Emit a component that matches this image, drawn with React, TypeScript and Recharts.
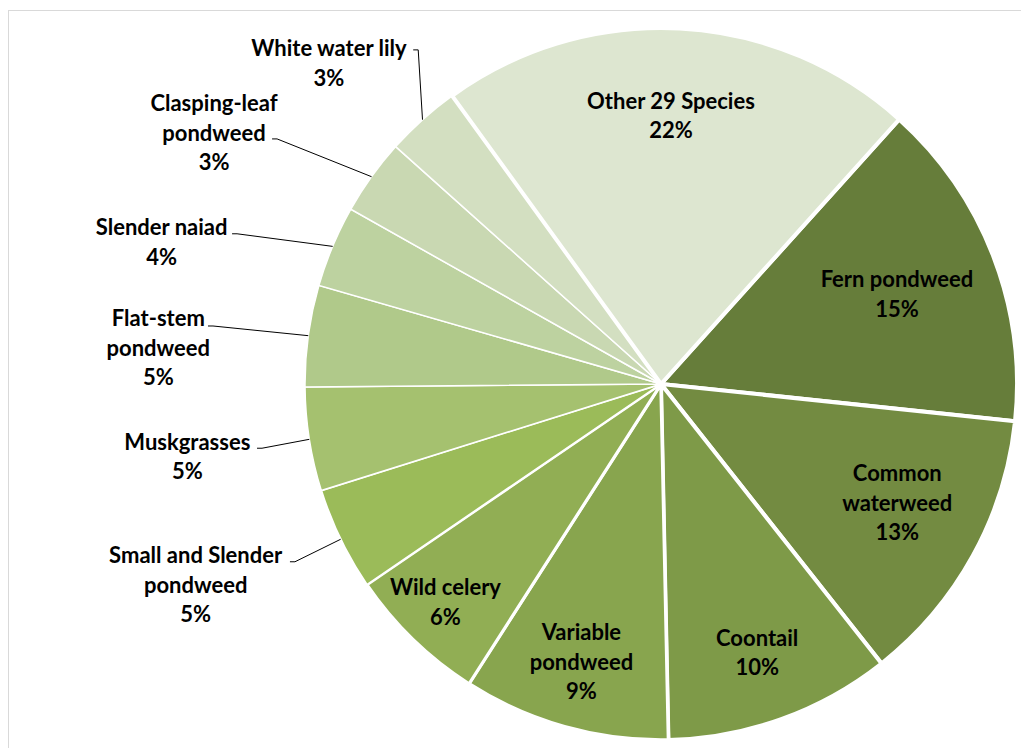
import React from 'react';
import { PieChart, Pie, Cell } from 'recharts';

// species, share of sampled plants (%)
const species = [
  'Fern pondweed',
  'Common\nwaterweed',
  'Coontail',
  'Variable\npondweed',
  'Wild celery',
  'Small and Slender\npondweed',
  'Muskgrasses',
  'Flat-stem\npondweed',
  'Slender naiad',
  'Clasping-leaf\npondweed',
  'White water lily',
  'Other 29 Species'
];
const shares = [15.0, 12.7, 10.3, 9.4, 6.4, 4.7, 4.7, 4.6, 3.7, 3.45, 3.4, 21.65];

const colors = [
  '#667d3a',
  '#738b41',
  '#7e9a48',
  '#88a54e',
  '#91ae54',
  '#9bbb59',
  '#a5c16f',
  '#b0c98a',
  '#bdd2a0',
  '#c9d8b2',
  '#d3dfc1',
  '#dde6d0'
];
const strokeWidths = [4, 4, 4, 3.5, 3, 2, 1.5, 1.5, 1.5, 1.5, 1.5, 4];

// label placement: inside labels use a radius fraction (+ small angle nudge),
// outside labels are offset from the slice edge with a bent leader line
type Inside = { kind: 'in'; r: number; da: number };
type Outside = { kind: 'out'; tx: number; ty: number; ex: number; ey: number };
const labelLayout: (Inside | Outside)[] = [
  { kind: 'in', r: 0.71, da: 0 },
  { kind: 'in', r: 0.742, da: -2.3 },
  { kind: 'in', r: 0.8, da: 0 },
  { kind: 'in', r: 0.81, da: 0.3 },
  { kind: 'in', r: 0.86, da: 0.6 },
  { kind: 'out', tx: -145, ty: 15.5, ex: -45.7, ey: 22.5 },
  { kind: 'out', tx: -122, ty: 2, ex: -47.3, ey: 8.9 },
  { kind: 'out', tx: -150, ty: -17.7, ex: -95.3, ey: -9.7 },
  { kind: 'out', tx: -171, ty: -19.6, ex: -95.6, ey: -12.6 },
  { kind: 'out', tx: -157.5, ty: -73.8, ex: -94.5, ey: -37.8 },
  { kind: 'out', tx: -93.5, ty: -71.8, ex: -4.3, ey: -69.8 },
  { kind: 'in', r: 0.756, da: -0.9 }
];

const data = species.map((name, i) => ({ name, value: shares[i] }));

const RAD = Math.PI / 180;
const LINE_H = 29.5;
const FONT = 'Lato, "Open Sans", sans-serif';

const renderLines = (lines: string[], x: number, top: number) =>
  lines.map((t, i) => (
    <text
      key={i}
      x={x}
      y={top + i * LINE_H}
      textAnchor="middle"
      dominantBaseline="central"
      fill="#000"
      fontFamily={FONT}
      fontWeight={700}
      fontSize={22}
    >
      {t}
    </text>
  ));

const renderLabel = (props: any) => {
  const { cx, cy, midAngle, outerRadius, percent, index } = props;
  const lines = species[index].split('\n').concat(`${Math.round(percent * 100)}%`);
  const layout = labelLayout[index];

  if (layout.kind === 'in') {
    const a = (midAngle - layout.da) * RAD;
    const r = outerRadius * layout.r;
    const x = cx + r * Math.cos(-a);
    const y = cy + r * Math.sin(-a);
    const top = y - ((lines.length - 1) * LINE_H) / 2;
    return <g key={`lbl-${index}`}>{renderLines(lines, x, top)}</g>;
  }

  const edgeX = cx + outerRadius * Math.cos(-midAngle * RAD);
  const edgeY = cy + outerRadius * Math.sin(-midAngle * RAD);
  const elbowX = edgeX + layout.ex;
  const elbowY = edgeY + layout.ey;
  return (
    <g key={`lbl-${index}`}>
      <polyline
        points={`${edgeX},${edgeY} ${elbowX},${elbowY} ${elbowX - 5},${elbowY}`}
        fill="none"
        stroke="#000"
        strokeWidth={1}
      />
      {renderLines(lines, edgeX + layout.tx, edgeY + layout.ty)}
    </g>
  );
};

export default function App() {
  return (
    <div style={{ position: 'relative', width: 1013, height: 740, overflow: 'hidden', background: '#fff' }}>
      <div
        style={{
          position: 'absolute',
          left: 0,
          top: 2,
          width: 1200,
          height: 1000,
          border: '1px solid #d9d9d9',
          boxSizing: 'border-box'
        }}
      />
      <div style={{ position: 'absolute', left: 0, top: 0 }}>
        <PieChart width={1013} height={740} margin={{ top: 0, right: 0, bottom: 0, left: 0 }}>
          <Pie
            data={data}
            dataKey="value"
            nameKey="name"
            cx={653}
            cy={376}
            outerRadius={356}
            startAngle={48}
            endAngle={-312}
            stroke="#fff"
            label={renderLabel}
            labelLine={false}
            isAnimationActive={false}
          >
            {data.map((_, i) => (
              <Cell key={`cell-${i}`} fill={colors[i]} stroke="#fff" strokeWidth={strokeWidths[i]} />
            ))}
          </Pie>
        </PieChart>
      </div>
    </div>
  );
}
